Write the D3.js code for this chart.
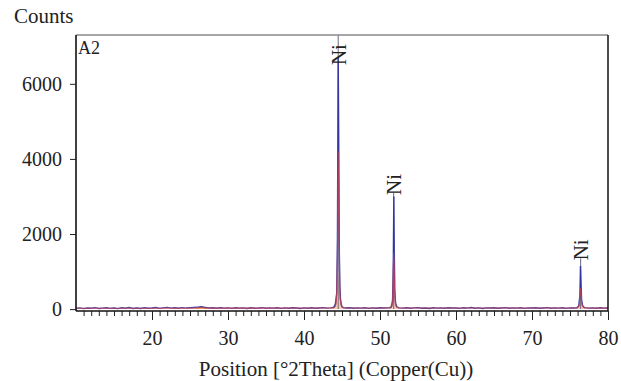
<!DOCTYPE html>
<html>
<head>
<meta charset="utf-8">
<script src="https://cdn.jsdelivr.net/npm/d3@7.9.0/dist/d3.min.js"></script>
<style>
  body { margin: 0; background: #fff; }
  svg text { font-family: "Liberation Serif", "DejaVu Serif", serif; fill: #222; }
</style>
</head>
<body>
<svg id="chart" width="621" height="381"></svg>
<script>
// observed counts (blue), [position °2θ, counts]
const observed = [
  [10,20],[10.5,34],[11,14],[11.5,30],[12,24],[12.5,40],[13,16],[13.5,28],[14,38],[14.5,20],
  [15,30],[15.5,14],[16,36],[16.5,24],[17,42],[17.5,18],[18,30],[18.5,16],[19,36],[19.5,22],
  [20,30],[20.5,42],[21,20],[21.5,34],[22,46],[22.5,26],[23,38],[23.5,24],[24,40],[24.5,28],
  [25,36],[25.5,44],[26,54],[26.5,62],[27,46],[27.5,30],[28,38],[28.5,22],[29,36],[29.5,26],
  [30,34],[30.5,20],[31,38],[31.5,26],[32,32],[32.5,18],[33,36],[33.5,24],[34,30],[34.5,40],
  [35,22],[35.5,34],[36,26],[36.5,38],[37,20],[37.5,32],[38,24],[38.5,36],[39,28],[39.5,18],
  [40,34],[40.5,24],[41,38],[41.5,22],[42,30],[42.5,40],[43,26],[43.5,34],[43.8,46],[44,70],
  [44.15,150],[44.3,420],[44.4,1900],[44.45,4300],[44.5,6700],[44.55,5200],[44.6,3500],[44.65,1500],
  [44.72,620],[44.8,260],[44.9,120],[45,62],[45.2,40],[45.5,28],[46,36],[46.5,22],[47,34],
  [47.5,26],[48,38],[48.5,20],[49,32],[49.5,24],[50,36],[50.5,28],[51,34],[51.3,40],[51.5,62],
  [51.65,210],[51.75,1250],[51.82,3000],[51.88,1550],[51.95,520],[52.05,160],[52.2,62],[52.5,34],
  [53,26],[53.5,38],[54,22],[54.5,32],[55,40],[55.5,24],[56,30],[56.5,18],[57,36],[57.5,26],
  [58,34],[58.5,22],[59,38],[59.5,28],[60,30],[60.5,20],[61,36],[61.5,26],[62,42],[62.5,24],
  [63,32],[63.5,18],[64,34],[64.5,28],[65,38],[65.5,22],[66,30],[66.5,40],[67,24],[67.5,34],
  [68,26],[68.5,36],[69,20],[69.5,32],[70,28],[70.5,38],[71,22],[71.5,30],[72,40],[72.5,24],
  [73,34],[73.5,26],[74,36],[74.5,20],[75,32],[75.5,28],[75.9,36],[76.15,85],[76.3,360],
  [76.38,1150],[76.45,720],[76.52,260],[76.65,95],[76.9,38],[77.5,26],[78,34],[78.5,22],
  [79,36],[79.5,26],[80,30]
];

// calculated profile (red)
const calculated = [
  [10,24],[26,26],[26.5,44],[27,26],[43.9,28],[44.2,120],[44.4,1400],[44.5,4200],[44.6,2400],
  [44.75,300],[45,60],[45.4,30],[51.4,28],[51.65,150],[51.8,1500],[51.92,500],[52.1,80],[52.5,30],
  [75.9,28],[76.2,90],[76.4,560],[76.55,150],[76.8,40],[77.2,28],[80,26]
];

// peach fill under the reflections, and the small orange hump
const fillProfile = [
  [43.7,0],[44.05,200],[44.35,600],[44.5,900],[44.65,600],[44.95,200],[45.3,0],
  [51.1,0],[51.45,160],[51.7,420],[51.8,580],[51.9,420],[52.15,160],[52.5,0],
  [75.8,0],[76.1,80],[76.3,180],[76.4,260],[76.5,180],[76.7,80],[77,0]
];
const hump = [[25.6,0],[26.1,40],[26.5,62],[26.9,40],[27.4,0]];

const yTicks = [0, 2000, 4000, 6000];
const xTicks = [20, 30, 40, 50, 60, 70, 80];
const minorTicks = d3.range(11, 80, 1);

// peak labels: position, counts at label bottom
const peakPos = [44.5, 51.8, 76.4];
const peakLabelAt = [6500, 3040, 1300];
const peakLabels = ["Ni", "Ni", "Ni"];

const svg = d3.select('#chart');
const padL = 76, padR = 608, padT = 35, padB = 311;

const x = d3.scaleLinear().domain([10, 80]).range([padL, padR]);
const y = d3.scaleLinear().domain([-50, 7300]).range([padB, padT]);

// fills
const area = d3.area().x(d => x(d[0])).y0(y(0)).y1(d => y(d[1])).curve(d3.curveMonotoneX);
const groups = [fillProfile.slice(0, 7), fillProfile.slice(7, 14), fillProfile.slice(14)];
groups.forEach(g => {
  svg.append('path').attr('d', area(g)).attr('fill', '#f5c6ab').attr('opacity', 0.9);
});
svg.append('path').attr('d', area(hump)).attr('fill', '#eaa24a').attr('opacity', 0.9);

// reference sticks
peakPos.forEach((p, i) => {
  svg.append('line')
    .attr('x1', x(p)).attr('x2', x(p))
    .attr('y1', i === 0 ? padT : y(peakLabelAt[i]) - 2)
    .attr('y2', y(0))
    .attr('stroke', '#6b6b80').attr('stroke-width', 1);
});

const line = d3.line().x(d => x(d[0])).y(d => y(d[1]));
svg.append('path').datum(observed).attr('d', line)
  .attr('fill', 'none').attr('stroke', '#2a2c9e').attr('stroke-width', 1.4).attr('opacity', 0.9);
svg.append('path').datum(calculated).attr('d', line.curve(d3.curveMonotoneX))
  .attr('fill', 'none').attr('stroke', '#d2404a').attr('stroke-width', 1.1).attr('opacity', 0.75);

// frame
svg.append('line').attr('x1', padL).attr('x2', padR).attr('y1', padT).attr('y2', padT)
  .attr('stroke', '#888').attr('stroke-width', 1.5);
svg.append('line').attr('x1', padR).attr('x2', padR).attr('y1', padT).attr('y2', padB)
  .attr('stroke', '#111').attr('stroke-width', 1.5);

// axes
const yAxis = d3.axisLeft(y).tickValues(yTicks).tickSize(6).tickPadding(8).tickFormat(d3.format('d'));
const gy = svg.append('g').attr('transform', `translate(${padL},0)`).call(yAxis);
gy.select('.domain').attr('d', `M0,${padT}V${padB}`).attr('stroke', '#111').attr('stroke-width', 1.6);

const gxm = svg.append('g').attr('transform', `translate(0,${padB})`)
  .call(d3.axisBottom(x).tickValues(minorTicks).tickSize(5).tickFormat(''));
gxm.select('.domain').remove();
gxm.selectAll('line').attr('stroke', '#333');

const gx = svg.append('g').attr('transform', `translate(0,${padB})`)
  .call(d3.axisBottom(x).tickValues(xTicks).tickSize(9).tickPadding(11));
gx.select('.domain').attr('d', `M${padL},0H${padR}`).attr('stroke', '#111').attr('stroke-width', 1.6);

svg.selectAll('.tick text').attr('font-size', 20).attr('font-family', '"Liberation Serif", serif').attr('fill', '#222');
svg.selectAll('.tick line').attr('stroke', '#222');

// peak labels
peakPos.forEach((p, i) => {
  svg.append('text')
    .attr('transform', `translate(${x(p)},${y(peakLabelAt[i])}) rotate(-90)`)
    .attr('dy', '0.35em')
    .attr('font-size', 21)
    .text(peakLabels[i]);
});

svg.append('text').attr('x', 14).attr('y', 23).attr('font-size', 21).text('Counts');
svg.append('text').attr('x', 78).attr('y', 54).attr('font-size', 18).text('A2');
svg.append('text').attr('x', 336).attr('y', 376).attr('text-anchor', 'middle')
  .attr('font-size', 21).text('Position [°2Theta] (Copper(Cu))');
</script>
</body>
</html>
